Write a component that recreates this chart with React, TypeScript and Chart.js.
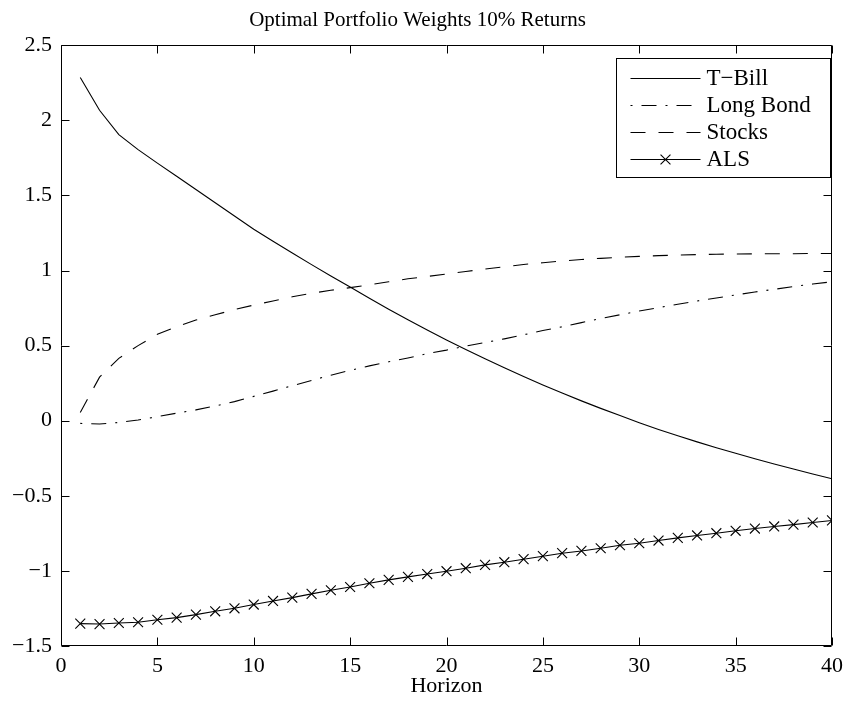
import React, { useEffect, useRef } from "react";
import { Chart, registerables } from "chart.js";

Chart.register(...registerables);

const horizons = [
  1, 2, 3, 4, 5, 6, 7, 8, 9, 10, 11, 12, 13, 14, 15, 16, 17, 18, 19, 20,
  21, 22, 23, 24, 25, 26, 27, 28, 29, 30, 31, 32, 33, 34, 35, 36, 37, 38, 39, 40,
];

const tBill = [
  2.285, 2.067, 1.905, 1.805, 1.715, 1.627, 1.539, 1.451, 1.363, 1.275,
  1.195, 1.117, 1.039, 0.963, 0.89, 0.815, 0.742, 0.672, 0.604, 0.538,
  0.474, 0.412, 0.352, 0.294, 0.238, 0.184, 0.132, 0.082, 0.034, -0.013,
  -0.058, -0.1, -0.141, -0.18, -0.217, -0.253, -0.288, -0.322, -0.355, -0.387,
];

const longBond = [
  -0.018, -0.022, -0.012, 0.005, 0.027, 0.05, 0.072, 0.098, 0.127, 0.162,
  0.197, 0.233, 0.268, 0.303, 0.335, 0.365, 0.392, 0.418, 0.446, 0.47,
  0.497, 0.52, 0.545, 0.572, 0.6, 0.625, 0.653, 0.68, 0.705, 0.73,
  0.753, 0.775, 0.797, 0.817, 0.837, 0.857, 0.875, 0.893, 0.91, 0.925,
];

const stocks = [
  0.055, 0.29, 0.415, 0.5, 0.575, 0.625, 0.67, 0.705, 0.74, 0.77,
  0.797, 0.825, 0.848, 0.868, 0.886, 0.905, 0.925, 0.945, 0.96, 0.977,
  0.993, 1.01, 1.025, 1.04, 1.052, 1.063, 1.073, 1.081, 1.088, 1.094,
  1.099, 1.103, 1.106, 1.108, 1.11, 1.111, 1.112, 1.112, 1.113, 1.113,
];

const als = [
  -1.351, -1.354, -1.347, -1.342, -1.325, -1.311, -1.291, -1.269, -1.249, -1.224,
  -1.2, -1.178, -1.153, -1.129, -1.107, -1.082, -1.06, -1.04, -1.021, -1.002,
  -0.982, -0.96, -0.942, -0.922, -0.902, -0.882, -0.867, -0.849, -0.829, -0.816,
  -0.798, -0.78, -0.764, -0.749, -0.733, -0.718, -0.704, -0.692, -0.678, -0.664,
];

const xTicks = [0, 5, 10, 15, 20, 25, 30, 35, 40];
const yTicks = [-1.5, -1, -0.5, 0, 0.5, 1, 1.5, 2, 2.5];

const seriesLabels = ["T\u2212Bill", "Long Bond", "Stocks", "ALS"];
const titleText = "Optimal Portfolio Weights 10% Returns";
const xTitle = "Horizon";

const FONT = "'Liberation Serif', 'Times New Roman', serif";

function fmt(v: number): string {
  const r = Math.round(v * 10) / 10;
  return r < 0 ? "\u2212" + String(Math.abs(r)) : String(r);
}

const framePlugin = {
  id: "frameAndLegend",
  afterDraw(chart: any) {
    const { ctx, chartArea: a, scales } = chart;
    const xs = scales.x;
    const ys = scales.y;
    ctx.save();
    ctx.strokeStyle = "#000";
    ctx.lineWidth = 1;
    ctx.setLineDash([]);
    const L = Math.round(a.left) + 0.5;
    const R = Math.round(a.right) - 0.5;
    const T = Math.round(a.top) + 0.5;
    const B = Math.round(a.bottom) - 0.5;
    ctx.beginPath();
    ctx.rect(L, T, R - L, B - T);
    ctx.stroke();
    const tl = 8;
    ctx.beginPath();
    for (const t of xs.ticks) {
      const px = Math.round(xs.getPixelForValue(t.value)) + 0.5;
      ctx.moveTo(px, B);
      ctx.lineTo(px, B - tl);
      ctx.moveTo(px, T);
      ctx.lineTo(px, T + tl);
    }
    for (const t of ys.ticks) {
      const py = Math.round(ys.getPixelForValue(t.value)) + 0.5;
      ctx.moveTo(L, py);
      ctx.lineTo(L + tl, py);
      ctx.moveTo(R, py);
      ctx.lineTo(R - tl, py);
    }
    ctx.stroke();

    // legend
    const datasets = chart.data.datasets;
    ctx.font = "23px " + FONT;
    let maxW = 0;
    for (const ds of datasets) maxW = Math.max(maxW, ctx.measureText(ds.label).width);
    const rowH = 27;
    const padL = 14;
    const lineLen = 70;
    const gap = 6;
    const padR = 20;
    const boxW = Math.round(padL + lineLen + gap + maxW + padR);
    const boxH = rowH * datasets.length + 11;
    const bx = Math.round(a.right - 2 - boxW) + 0.5;
    const by = Math.round(a.top + 13) + 0.5;
    ctx.fillStyle = "#fff";
    ctx.fillRect(bx, by, boxW, boxH);
    ctx.strokeRect(bx, by, boxW, boxH);
    datasets.forEach((ds: any, i: number) => {
      const cy = Math.round(by + 19 + i * rowH) + 0.5;
      const x0 = bx + padL;
      ctx.setLineDash(ds.borderDash || []);
      ctx.lineWidth = ds.borderWidth;
      ctx.strokeStyle = ds.borderColor;
      ctx.beginPath();
      ctx.moveTo(x0, cy);
      ctx.lineTo(x0 + lineLen, cy);
      ctx.stroke();
      ctx.setLineDash([]);
      if (ds.pointRadius > 0) {
        const cx = x0 + lineLen / 2;
        const r = ds.pointRadius * Math.SQRT1_2;
        ctx.beginPath();
        ctx.moveTo(cx - r, cy - r);
        ctx.lineTo(cx + r, cy + r);
        ctx.moveTo(cx - r, cy + r);
        ctx.lineTo(cx + r, cy - r);
        ctx.stroke();
      }
      ctx.fillStyle = "#000";
      ctx.textAlign = "left";
      ctx.textBaseline = "middle";
      ctx.fillText(ds.label, x0 + lineLen + gap, cy);
    });
    ctx.restore();
  },
};

export default function App() {
  const ref = useRef<HTMLCanvasElement | null>(null);

  useEffect(() => {
    if (!ref.current) return;
    const mk = (vals: number[]) => horizons.map((h, i) => ({ x: h, y: vals[i] }));
    const base = {
      borderColor: "#000",
      backgroundColor: "#000",
      borderWidth: 1.1,
      pointRadius: 0,
      tension: 0,
      fill: false,
    };
    const chart = new Chart(ref.current, {
      type: "line",
      data: {
        datasets: [
          { ...base, label: seriesLabels[0], data: mk(tBill), borderDash: [] },
          { ...base, label: seriesLabels[1], data: mk(longBond), borderDash: [2, 9, 15, 9] },
          { ...base, label: seriesLabels[2], data: mk(stocks), borderDash: [15, 13] },
          {
            ...base,
            label: seriesLabels[3],
            data: mk(als),
            borderDash: [],
            pointRadius: 7,
            pointStyle: "crossRot",
            pointBorderColor: "#000",
            pointBorderWidth: 1.1,
          },
        ],
      },
      options: {
        responsive: false,
        animation: false,
        events: [],
        layout: { padding: { left: 0, right: 15, top: 0, bottom: 0 } },
        plugins: {
          legend: { display: false },
          tooltip: { enabled: false },
          title: {
            display: true,
            text: titleText,
            color: "#000",
            font: { family: FONT, size: 21, weight: "normal" },
            padding: { top: 8, bottom: 12 },
          },
        },
        scales: {
          x: {
            type: "linear",
            min: 0,
            max: 40,
            afterBuildTicks: (s: any) => {
              s.ticks = xTicks.map((v) => ({ value: v }));
            },
            afterFit: (s: any) => {
              s.height = 58;
            },
            ticks: {
              color: "#000",
              font: { family: FONT, size: 22 },
              padding: 7,
              maxRotation: 0,
              autoSkip: false,
              callback: (v: any) => fmt(Number(v)),
            },
            grid: { display: false, drawTicks: false },
            border: { display: false },
            title: {
              display: true,
              text: xTitle,
              color: "#000",
              font: { family: FONT, size: 22 },
              padding: { top: 0, bottom: 5 },
            },
          },
          y: {
            type: "linear",
            min: -1.5,
            max: 2.5,
            afterBuildTicks: (s: any) => {
              s.ticks = yTicks.map((v) => ({ value: v }));
            },
            afterFit: (s: any) => {
              s.width = 61;
            },
            ticks: {
              color: "#000",
              font: { family: FONT, size: 22 },
              padding: 9,
              autoSkip: false,
              callback: (v: any) => fmt(Number(v)),
            },
            grid: { display: false, drawTicks: false },
            border: { display: false },
          },
        },
      },
      plugins: [framePlugin],
    } as any);
    return () => chart.destroy();
  }, []);

  return (
    <div style={{ position: "absolute", left: 0, top: 0, width: 850, height: 704, background: "#fff" }}>
      <canvas ref={ref} width={850} height={704} style={{ display: "block" }} />
    </div>
  );
}
